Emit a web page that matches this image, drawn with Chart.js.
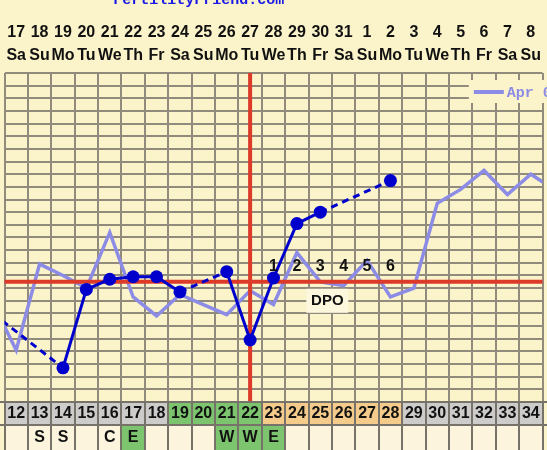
<!DOCTYPE html>
<html>
<head>
<meta charset="utf-8">
<script src="https://cdn.jsdelivr.net/npm/chart.js@4.4.0/dist/chart.umd.min.js"></script>
<style>
    html, body { margin: 0; padding: 0; background: #fbf3c9; overflow: hidden; }
    #wrap { position: absolute; left: -2px; top: 0; width: 551px; height: 450px; }
</style>
</head>
<body>
<div id="wrap"><canvas id="bbtChart"></canvas></div>
<script>
// cycle days shown on screen and their calendar labels
const cycleDays = [12, 13, 14, 15, 16, 17, 18, 19, 20, 21, 22, 23, 24, 25, 26, 27, 28, 29, 30, 31, 32, 33, 34]
const dates = ['17', '18', '19', '20', '21', '22', '23', '24', '25', '26', '27', '28', '29', '30', '31', '1', '2', '3', '4', '5', '6', '7', '8']
const weekdays = ['Sa', 'Su', 'Mo', 'Tu', 'We', 'Th', 'Fr', 'Sa', 'Su', 'Mo', 'Tu', 'We', 'Th', 'Fr', 'Sa', 'Su', 'Mo', 'Tu', 'We', 'Th', 'Fr', 'Sa', 'Su']
const cervicalFluid = ['', 'S', 'S', '', 'C', 'E', '', '', '', 'W', 'W', 'E', '', '', '', '', '', '', '', '', '', '', '']

// current cycle temps (null = not recorded)
const tempDays = [11, 12, 13, 14, 15, 16, 17, 18, 19, 20, 21, 22, 23, 24, 25, 26, 27, 28]
const temps = [97.30, null, null, 96.87, 97.49, 97.57, 97.59, 97.59, 97.47, null, 97.63, 97.09, 97.58, 98.01, 98.10, null, null, 98.35]

// overlay cycle
const overlayLabel = 'Apr 06'
const overlayDays = [11, 12, 13, 14, 15, 16, 17, 18, 19, 20, 21, 22, 23, 24, 25, 26, 27, 28, 29, 30, 31, 32, 33, 34, 35]
const overlayTemps = [97.38, 97.01, 97.69, 97.60, 97.50, 97.94, 97.43, 97.28, 97.45, 97.37, 97.29, 97.48, 97.37, 97.78, 97.55, 97.52, 97.72, 97.43, 97.50, 98.17, 98.28, 98.43, 98.24, 98.40, 98.28]

const coverline = 97.55
const ovulationDay = 22
const fertileDays = [19, 20, 21, 22]
const dpoDays = [23, 24, 25, 26, 27, 28]
const dpoLabels = ['1', '2', '3', '4', '5', '6']

const yMin = 96.6
const yMax = 99.2

const bg = '#fbf3c9'
const gridColor = '#918b7e'
const red = '#dc3b2a'
const dark = '#0000cc'
const light = '#8c8ce6'
const labelFont = 'bold 16px "Liberation Sans", Arial, sans-serif'

const chartDecor = {
    id: 'chartDecor',
    beforeDraw(chart) {
        const ctx = chart.ctx
        ctx.save()
        ctx.fillStyle = bg
        ctx.fillRect(0, 0, chart.width, chart.height)
        ctx.restore()
    },
    afterDraw(chart) {
        const ctx = chart.ctx
        const x = chart.scales.x
        const y = chart.scales.y
        const area = chart.chartArea
        ctx.save()

        // site name, cut off at the top
        ctx.font = 'bold 15px "Liberation Mono", monospace'
        ctx.fillStyle = '#1a1ae6'
        ctx.textAlign = 'center'
        ctx.textBaseline = 'alphabetic'
        ctx.fillText('FertilityFriend.com', x.getPixelForValue(19.8), 4)

        // dates + weekdays
        ctx.font = labelFont
        ctx.fillStyle = '#111'
        ctx.textBaseline = 'middle'
        cycleDays.forEach((d, i) => {
            const px = x.getPixelForValue(d)
            ctx.fillText(dates[i], px, 33)
            ctx.fillText(weekdays[i], px, 56)
        })

        // bottom rows
        const rowTop = area.bottom
        const rowMid = rowTop + 23
        const rowEnd = chart.height
        cycleDays.forEach((d, i) => {
            const x0 = x.getPixelForValue(d - 0.5)
            const x1 = x.getPixelForValue(d + 0.5)
            let fill = '#cdcccb'
            if (fertileDays.includes(d)) fill = '#7cc46e'
            if (dpoDays.includes(d)) fill = '#f5cb8c'
            ctx.fillStyle = fill
            ctx.fillRect(x0, rowTop, x1 - x0, rowMid - rowTop)
            ctx.fillStyle = (cervicalFluid[i] === 'E' || cervicalFluid[i] === 'W') ? '#7cc46e' : '#fcf4dc'
            ctx.fillRect(x0, rowMid, x1 - x0, rowEnd - rowMid)
            ctx.fillStyle = '#111'
            ctx.fillText(String(d), x.getPixelForValue(d), rowTop + 12)
            if (cervicalFluid[i]) ctx.fillText(cervicalFluid[i], x.getPixelForValue(d), rowMid + 13)
        })
        ctx.strokeStyle = '#77736b'
        ctx.lineWidth = 2
        ctx.beginPath()
        ctx.moveTo(0, rowTop); ctx.lineTo(chart.width, rowTop)
        ctx.moveTo(0, rowMid); ctx.lineTo(chart.width, rowMid)
        cycleDays.forEach(d => {
            const px = Math.round(x.getPixelForValue(d + 0.5))
            ctx.moveTo(px, rowTop); ctx.lineTo(px, rowEnd)
        })
        const px0 = Math.round(x.getPixelForValue(11.5))
        ctx.moveTo(px0, rowTop); ctx.lineTo(px0, rowEnd)
        ctx.stroke()

        // DPO labels
        const cy = y.getPixelForValue(coverline)
        ctx.fillStyle = '#111'
        dpoDays.forEach((d, i) => {
            ctx.fillText(dpoLabels[i], x.getPixelForValue(d), cy - 15)
        })
        ctx.font = 'bold 15px "Liberation Sans", Arial, sans-serif'
        const dpoX = x.getPixelForValue(25.3)
        ctx.fillStyle = '#fdf7de'
        ctx.fillRect(dpoX - 21, cy + 7, 42, 24)
        ctx.fillStyle = '#111'
        ctx.fillText('DPO', dpoX, cy + 19)

        // legend box (top right)
        const lx = x.getPixelForValue(31.35)
        ctx.fillStyle = bg
        ctx.fillRect(lx, area.top + 7, chart.width - lx, 23)
        ctx.strokeStyle = light
        ctx.lineWidth = 4
        ctx.beginPath()
        ctx.moveTo(lx + 5, area.top + 19)
        ctx.lineTo(lx + 35, area.top + 19)
        ctx.stroke()
        ctx.fillStyle = light
        ctx.textAlign = 'left'
        ctx.font = 'bold 15px "Liberation Mono", monospace'
        ctx.fillText(overlayLabel, lx + 38, area.top + 20)
        ctx.restore()
    }
}

const ctx = document.getElementById('bbtChart').getContext('2d')
const chart = new Chart(ctx, {
    type: 'line',
    data: {
        datasets: [
            {
                label: 'current',
                data: tempDays.map((d, i) => ({ x: d, y: temps[i] })),
                borderColor: dark,
                backgroundColor: dark,
                borderWidth: 3,
                pointRadius: 6.5,
                pointHoverRadius: 6.5,
                pointBorderWidth: 0,
                spanGaps: true,
                segment: {
                    borderDash: c => (c.p0.skip || c.p1.skip) ? [7, 5] : undefined
                },
                order: 1
            },
            {
                label: 'coverline',
                data: [{ x: 10, y: coverline }, { x: 36, y: coverline }],
                borderColor: red,
                borderWidth: 4,
                pointRadius: 0,
                order: 2
            },
            {
                label: 'ovulation',
                data: [{ x: ovulationDay, y: yMin }, { x: ovulationDay, y: yMax }],
                borderColor: red,
                borderWidth: 4,
                pointRadius: 0,
                order: 2
            },
            {
                label: overlayLabel,
                data: overlayDays.map((d, i) => ({ x: d, y: overlayTemps[i] })),
                borderColor: light,
                borderWidth: 3.5,
                pointRadius: 0,
                order: 3
            }
        ]
    },
    options: {
        responsive: true,
        maintainAspectRatio: false,
        animation: false,
        layout: { padding: { top: 73, bottom: 48, left: 0, right: 0 } },
        plugins: {
            legend: { display: false },
            tooltip: { enabled: false }
        },
        scales: {
            x: {
                type: 'linear',
                min: 11.5,
                max: 34.5,
                afterBuildTicks: axis => {
                    const t = []
                    for (let v = 11.5; v <= 34.5; v += 1) t.push({ value: v })
                    axis.ticks = t
                },
                ticks: { display: false },
                border: { display: false },
                grid: { color: gridColor, lineWidth: 2, drawTicks: false }
            },
            y: {
                min: yMin,
                max: yMax,
                afterBuildTicks: axis => {
                    const t = []
                    for (let k = 0; k <= 26; k++) t.push({ value: Math.round((yMin + k * 0.1) * 100) / 100 })
                    axis.ticks = t
                },
                ticks: { display: false },
                border: { display: false },
                grid: { color: gridColor, lineWidth: 2, drawTicks: false }
            }
        }
    },
    plugins: [chartDecor]
})
</script>
</body>
</html>
